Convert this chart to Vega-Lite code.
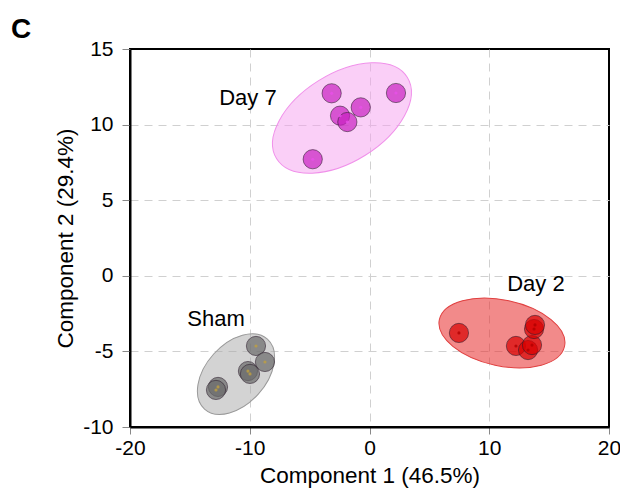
{
  "$schema": "https://vega.github.io/schema/vega-lite/v6.json",
  "width": 479,
  "height": 378,
  "autosize": {"type": "none"},
  "padding": {"left": 130, "top": 49, "right": 11, "bottom": 63},
  "background": "white",
  "config": {
    "font": "Liberation Sans",
    "view": {"stroke": "black", "strokeWidth": 2}
  },
  "title": {
    "text": "C",
    "anchor": "start",
    "frame": "group",
    "orient": "top",
    "dx": -119,
    "offset": -6,
    "fontSize": 28,
    "fontWeight": "bold",
    "color": "black",
    "font": "Liberation Sans"
  },
  "datasets": {
    "points": [
      {"group": "Day 7", "pc1": -3.16, "pc2": 12.07},
      {"group": "Day 7", "pc1": 2.21, "pc2": 12.09},
      {"group": "Day 7", "pc1": -0.73, "pc2": 11.14},
      {"group": "Day 7", "pc1": -2.46, "pc2": 10.59},
      {"group": "Day 7", "pc1": -1.85, "pc2": 10.17},
      {"group": "Day 7", "pc1": -4.74, "pc2": 7.71},
      {"group": "Day 2", "pc1": 7.47, "pc2": -3.78},
      {"group": "Day 2", "pc1": 12.23, "pc2": -4.64},
      {"group": "Day 2", "pc1": 13.24, "pc2": -4.91},
      {"group": "Day 2", "pc1": 13.57, "pc2": -4.58},
      {"group": "Day 2", "pc1": 13.74, "pc2": -3.52},
      {"group": "Day 2", "pc1": 13.82, "pc2": -3.25},
      {"group": "Sham", "pc1": -9.48, "pc2": -4.64},
      {"group": "Sham", "pc1": -8.73, "pc2": -5.7},
      {"group": "Sham", "pc1": -10.15, "pc2": -6.3},
      {"group": "Sham", "pc1": -9.98, "pc2": -6.49},
      {"group": "Sham", "pc1": -12.65, "pc2": -7.35},
      {"group": "Sham", "pc1": -12.82, "pc2": -7.55}
    ],
    "ellipses": [
      {"group": "Day 7", "cx": -2.3, "cy": 10.44},
      {"group": "Day 2", "cx": 11.06, "cy": -3.78},
      {"group": "Sham", "cx": -11.15, "cy": -6.5}
    ],
    "labels": [
      {"label": "Day 7", "x": -10.15, "y": 11.76},
      {"label": "Day 2", "x": 13.9, "y": -0.54},
      {"label": "Sham", "x": -12.82, "y": -2.86}
    ]
  },
  "layer": [
    {
      "data": {"name": "ellipses"},
      "transform": [{"filter": "datum.group === 'Day 7'"}],
      "mark": {
        "type": "point",
        "shape": "M -77 0 A 77 44 0 1 0 77 0 A 77 44 0 1 0 -77 0 Z",
        "size": 4,
        "angle": -32,
        "filled": true,
        "fill": "#f5a0f0",
        "fillOpacity": 0.5,
        "stroke": "#f090ea",
        "strokeWidth": 1,
        "opacity": 1
      },
      "encoding": {
        "x": {
          "field": "cx",
          "type": "quantitative",
          "scale": {"domain": [-20, 20], "nice": false, "zero": false},
          "axis": {
            "values": [-20, -10, 0, 10, 20],
            "labelExpr": "'' + datum.value",
            "title": "Component 1 (46.5%)",
            "grid": true,
            "gridDash": [8, 6],
            "gridColor": "#d0d0d0",
            "gridWidth": 1,
            "gridOpacity": {"condition": {"test": "datum.value === 20 || datum.value === -20", "value": 0}, "value": 1},
            "domainColor": "black",
            "domainWidth": 2,
            "tickColor": "#888888",
            "tickSize": 7,
            "labelFontSize": 21,
            "labelColor": "black",
            "labelPadding": 3,
            "labelOverlap": false,
            "labelFlush": false,
            "titleFontSize": 22.5,
            "titleFontWeight": "normal",
            "titleColor": "black",
            "titlePadding": 6
          }
        },
        "y": {
          "field": "cy",
          "type": "quantitative",
          "scale": {"domain": [-10, 15], "nice": false, "zero": false},
          "axis": {
            "values": [-10, -5, 0, 5, 10, 15],
            "labelExpr": "'' + datum.value",
            "title": "Component 2 (29.4%)",
            "grid": true,
            "gridDash": [8, 6],
            "gridColor": "#d0d0d0",
            "gridWidth": 1,
            "gridOpacity": {"condition": {"test": "datum.value === 15 || datum.value === -10", "value": 0}, "value": 1},
            "domainColor": "black",
            "domainWidth": 2,
            "tickColor": "#888888",
            "tickSize": 8,
            "labelFontSize": 21,
            "labelColor": "black",
            "labelPadding": 9,
            "labelOverlap": false,
            "labelFlush": false,
            "titleFontSize": 22.5,
            "titleFontWeight": "normal",
            "titleColor": "black",
            "titlePadding": 5
          }
        }
      }
    },
    {
      "data": {"name": "ellipses"},
      "transform": [{"filter": "datum.group === 'Day 2'"}],
      "mark": {
        "type": "point",
        "shape": "M -64 0 A 64 33 0 1 0 64 0 A 64 33 0 1 0 -64 0 Z",
        "size": 4,
        "angle": 12,
        "filled": true,
        "fill": "#e82a2a",
        "fillOpacity": 0.55,
        "stroke": "#e04040",
        "strokeWidth": 1,
        "opacity": 1
      },
      "encoding": {
        "x": {"field": "cx", "type": "quantitative"},
        "y": {"field": "cy", "type": "quantitative"}
      }
    },
    {
      "data": {"name": "ellipses"},
      "transform": [{"filter": "datum.group === 'Sham'"}],
      "mark": {
        "type": "point",
        "shape": "M -47 0 A 47 30 0 1 0 47 0 A 47 30 0 1 0 -47 0 Z",
        "size": 4,
        "angle": -48,
        "filled": true,
        "fill": "#a8a8a8",
        "fillOpacity": 0.5,
        "stroke": "#999999",
        "strokeWidth": 1,
        "opacity": 1
      },
      "encoding": {
        "x": {"field": "cx", "type": "quantitative"},
        "y": {"field": "cy", "type": "quantitative"}
      }
    },
    {
      "data": {"name": "points"},
      "mark": {
        "type": "circle",
        "size": 370,
        "fillOpacity": 0.7,
        "opacity": 1,
        "stroke": "#2a1a2a",
        "strokeOpacity": 0.55,
        "strokeWidth": 1
      },
      "encoding": {
        "x": {"field": "pc1", "type": "quantitative"},
        "y": {"field": "pc2", "type": "quantitative"},
        "color": {
          "field": "group",
          "type": "nominal",
          "scale": {"domain": ["Day 7", "Day 2", "Sham"], "range": ["#c820c0", "#d80000", "#6a6a6a"]},
          "legend": null
        }
      }
    },
    {
      "data": {"name": "points"},
      "mark": {"type": "circle", "size": 10, "opacity": 0.8},
      "encoding": {
        "x": {"field": "pc1", "type": "quantitative"},
        "y": {"field": "pc2", "type": "quantitative"},
        "color": {
          "field": "group",
          "type": "nominal",
          "scale": {"domain": ["Day 7", "Day 2", "Sham"], "range": ["#e850e8", "#b00000", "#c0a040"]},
          "legend": null
        }
      }
    },
    {
      "data": {"name": "labels"},
      "mark": {"type": "text", "fontSize": 22, "align": "center", "baseline": "middle", "color": "black", "font": "Liberation Sans"},
      "encoding": {
        "x": {"field": "x", "type": "quantitative"},
        "y": {"field": "y", "type": "quantitative"},
        "text": {"field": "label"}
      }
    }
  ],
  "resolve": {"scale": {"color": "independent"}}
}
